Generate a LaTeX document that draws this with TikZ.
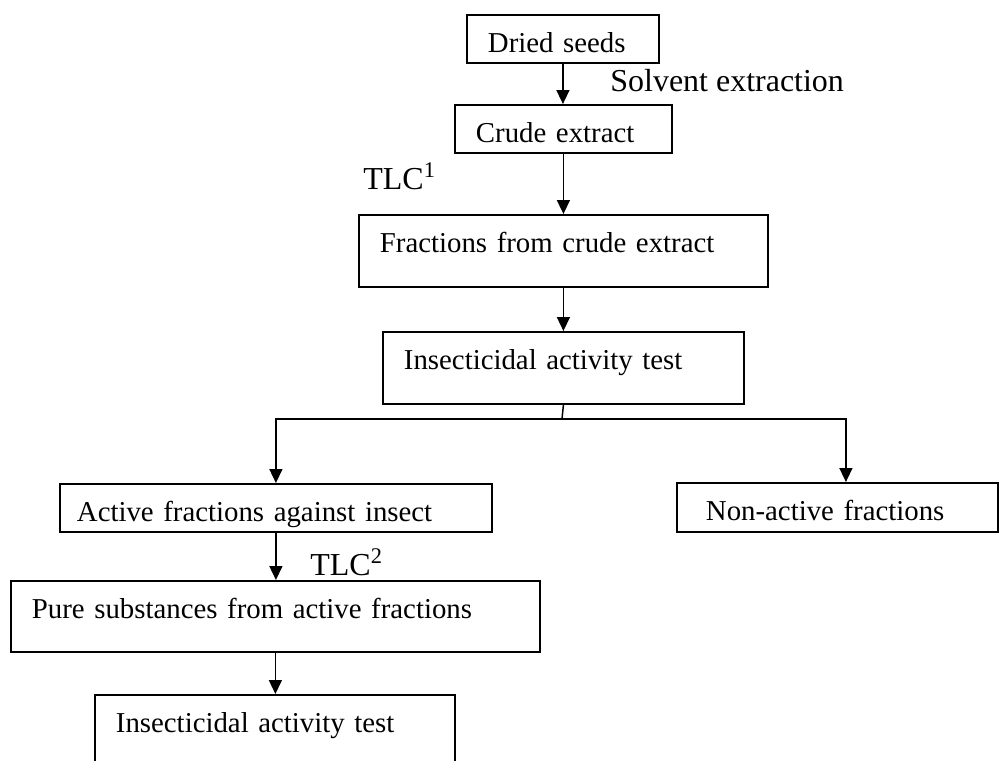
\documentclass[tikz,border=0pt]{standalone}
\usepackage{fontspec}
\setmainfont{Liberation Serif}
\usetikzlibrary{arrows.meta}

\tikzset{
  stepbox/.style={draw, line width=0.038cm, anchor=north west, inner ysep=0pt, inner xsep=0.42cm,
    align=left, text height=0.76cm, font=\fontsize{16.4}{19}\selectfont},
  lbl/.style={anchor=base west, inner sep=0pt, font=\fontsize{18.2}{21}\selectfont},
  flow/.style={line width=0.03cm, -{Triangle[width=0.26cm,length=0.28cm]}}
}

\begin{document}
\begin{tikzpicture}[x=0.02cm, y=-0.02cm]
    \useasboundingbox (0,0) rectangle (999,760);

    % boxes, top down
    \node[stepbox, text width=3.0cm, text depth=0.2cm] (dried) at (466,14) {Dried seeds};
    \node[stepbox, text width=3.5cm, text depth=0.2cm] (crude) at (454,104) {Crude extract};
    \node[stepbox, text width=7.34cm, text depth=0.68cm] (frac) at (358,214) {Fractions from crude extract};
    \node[stepbox, text width=6.38cm, text depth=0.68cm] (test1) at (382,331) {Insecticidal activity test};

    \node[stepbox, inner xsep=0.34cm, text width=7.96cm, text depth=0.2cm] (active) at (59,483) {Active fractions against insect};
    \node[stepbox, inner xsep=0.58cm, text width=5.26cm, text depth=0.22cm] (nonact) at (676,482) {Non-active fractions};

    \node[stepbox, text width=9.74cm, text depth=0.66cm] (pure) at (10,580) {Pure substances from active fractions};
    \node[stepbox, text width=6.36cm, text depth=0.68cm] (test2) at (94,694) {Insecticidal activity test};

    % labels
    \node[lbl] (solvent) at (610,92) {Solvent extraction};
    \node[lbl] (tlc1) at (363,189) {TLC\textsuperscript{1}};
    \node[lbl] (tlc2) at (310,575) {TLC\textsuperscript{2}};

    % arrows
    \draw[flow] (dried.south) -- (dried.south |- crude.north);
    \draw[flow] (crude.south) -- (crude.south |- frac.north);
    \draw[flow] (frac.south) -- (frac.south |- test1.north);

    \coordinate (split) at (562,419);
    \draw[line width=0.03cm] (test1.south) -- (split);
    \draw[flow] (split) -| (active.north);
    \draw[flow] (split) -| ([xshift=0.17cm]nonact.north);

    \draw[flow] (active.south) -- (active.south |- pure.north);
    \draw[flow] (pure.south) -- (pure.south |- test2.north);
\end{tikzpicture}
\end{document}
